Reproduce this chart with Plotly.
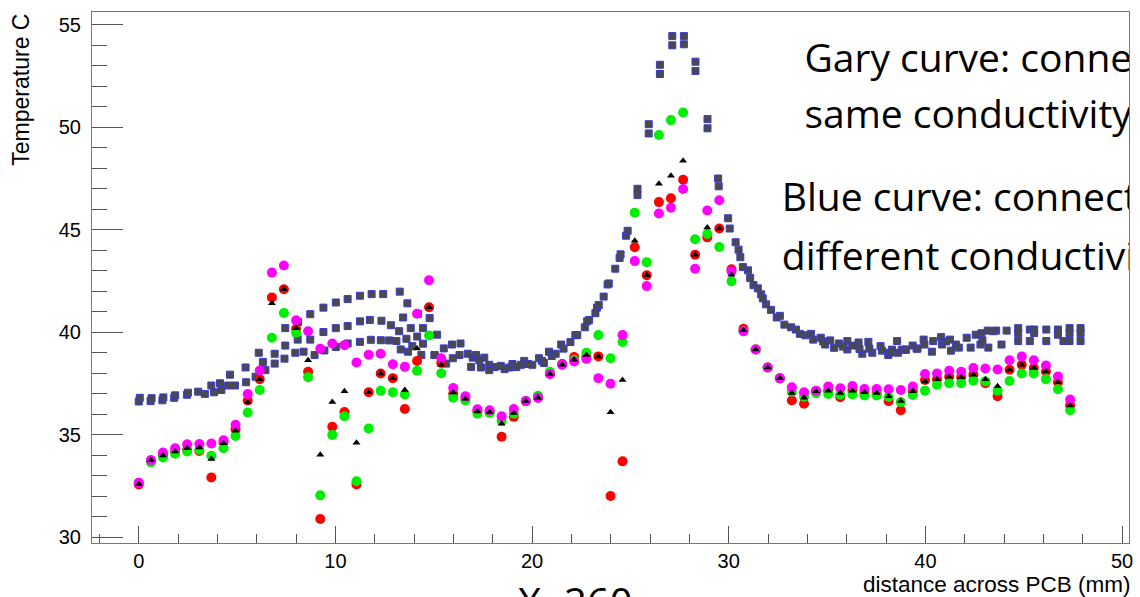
import plotly.graph_objects as go

# ---------------- data ----------------
x_pts = [0.0, 0.62, 1.23, 1.85, 2.46, 3.08, 3.69, 4.31, 4.92, 5.54, 6.15, 6.77, 7.38, 8.0,
         8.61, 9.23, 9.84, 10.46, 11.07, 11.69, 12.3, 12.92, 13.53, 14.15, 14.76, 15.38,
         15.99, 16.61, 17.22, 17.84, 18.45, 19.07, 19.68, 20.3, 20.91, 21.53, 22.14, 22.76,
         23.37, 23.99, 24.6, 25.22, 25.83, 26.45, 27.06, 27.68, 28.29, 28.91, 29.52, 30.14,
         30.75, 31.37, 31.98, 32.6, 33.21, 33.83, 34.44, 35.06, 35.67, 36.29, 36.9, 37.52,
         38.13, 38.75, 39.36, 39.98, 40.59, 41.21, 41.82, 42.44, 43.05, 43.67, 44.28, 44.9,
         45.51, 46.13, 46.74, 47.36]

red_y = [32.57, 33.7, 34.0, 34.15, 34.25, 34.21, 32.91, 34.63, 35.26, 36.67, 37.71, 41.70,
         42.10, 40.16, 38.07, 30.89, 35.39, 36.11, 32.57, 37.07, 37.99, 37.76, 36.25, 38.6,
         41.22, 38.5, 37.0, 36.75, 36.14, 36.11, 34.9, 35.87, 36.64, 36.8, 37.96, 38.45,
         38.79, 38.8, 38.82, 32.01, 33.70, 44.15, 42.78, 46.35, 46.54, 47.44, 43.78, 44.63,
         45.06, 43.07, 40.17, 39.16, 38.28, 37.75, 36.67, 36.51, 37.12, 37.15, 36.83, 37.15,
         37.07, 37.0, 36.64, 36.19, 37.12, 37.67, 37.71, 37.83, 37.8, 37.93, 37.51, 36.88,
         38.17, 38.41, 38.25, 38.09, 37.56, 36.43]

green_y = [32.65, 33.65, 33.89, 34.07, 34.18, 34.25, 33.97, 34.34, 34.94, 36.08, 37.18, 39.73,
           40.94, 39.97, 37.8, 32.04, 34.99, 35.9, 32.73, 35.3, 37.14, 37.07, 36.96, 38.12,
           39.84, 38.0, 36.8, 36.67, 36.03, 36.06, 35.68, 36.03, 36.64, 36.9, 38.07, 38.41,
           38.66, 39.0, 39.86, 38.73, 39.52, 45.83, 43.42, 49.62, 50.35, 50.72, 44.54, 44.79,
           44.16, 42.49, 40.05, 39.16, 38.28, 37.75, 37.1, 36.85, 37.03, 36.99, 36.95, 36.96,
           36.91, 36.91, 36.84, 36.59, 36.94, 37.15, 37.44, 37.51, 37.51, 37.64, 37.6, 37.15,
           37.62, 37.99, 37.99, 37.71, 37.22, 36.19]

magenta_y = [32.65, 33.76, 34.13, 34.34, 34.53, 34.55, 34.57, 34.73, 35.48, 36.98, 38.13, 42.91,
             43.26, 40.58, 40.05, 39.19, 39.45, 39.37, 38.52, 38.9, 38.95, 38.44, 38.31, 40.9,
             42.54, 38.73, 37.28, 36.87, 36.24, 36.19, 35.9, 36.25, 36.64, 36.8, 37.96, 38.41,
             38.57, 38.7, 37.76, 37.49, 39.86, 43.47, 42.25, 45.79, 46.07, 46.99, 43.10, 45.94,
             46.44, 42.97, 40.05, 39.16, 38.28, 37.75, 37.31, 37.07, 37.15, 37.35, 37.27, 37.38,
             37.23, 37.23, 37.22, 37.18, 37.35, 37.96, 37.99, 38.12, 38.07, 38.25, 38.23, 38.18,
             38.63, 38.82, 38.63, 38.38, 37.84, 36.72]

black_y = [32.6, 33.76, 33.99, 34.18, 34.34, 34.37, 33.81, 34.58, 35.19, 36.58, 37.71, 41.41,
           42.1, 40.2, 38.63, 34.02, 36.59, 37.12, 34.61, 37.07, 37.99, 37.76, 37.18, 39.21,
           41.22, 38.41, 37.06, 36.75, 36.14, 36.11, 35.54, 36.06, 36.64, 36.8, 37.96, 38.41,
           38.66, 38.89, 38.82, 36.09, 37.67, 44.46, 42.78, 47.25, 47.63, 48.37, 43.78, 45.11,
           45.06, 42.81, 40.1, 39.16, 38.28, 37.75, 37.04, 36.8, 37.12, 37.15, 37.03, 37.15,
           37.07, 37.04, 36.87, 36.64, 37.12, 37.6, 37.71, 37.83, 37.8, 37.93, 37.71, 37.36,
           38.17, 38.41, 38.25, 38.09, 37.56, 36.43]

sq_a_x = [0.0, 0.6, 1.2, 1.8, 2.45, 3.02, 3.69, 4.13, 4.64, 5.43, 6.1, 6.91, 7.45, 8.1, 8.72,
          9.39, 10.02, 10.62, 11.25, 11.84, 12.43, 13.27, 13.66, 14.2, 14.79, 15.17, 15.51,
          15.93, 16.36, 16.98, 17.57, 18.1, 18.84, 19.6, 20.35, 20.86, 21.48, 21.95, 22.2,
          22.68, 22.8, 23.22, 23.3, 23.64, 23.84, 24.23, 24.45, 24.78, 25.36, 25.93, 26.5,
          27.13, 27.72, 28.31, 28.92, 29.46, 29.97, 30.35, 30.59, 30.98, 31.26, 31.65, 31.9,
          32.15, 32.44, 32.83, 33.17, 33.62, 34.18, 34.68, 35.16, 35.6, 36.03, 36.6, 37.1,
          37.72, 38.3, 38.56, 39.0, 39.35, 39.91, 40.4, 40.8, 41.25, 41.55, 42.1, 42.56,
          43.17, 43.6, 44.13, 44.72, 45.31, 45.53, 46.15, 46.74, 47.33, 47.89]
sq_a_y = [36.62, 36.64, 36.68, 36.8, 36.95, 37.1, 37.4, 37.51, 37.93, 38.28, 39.0, 38.95, 40.2,
          40.5, 40.88, 41.2, 41.45, 41.62, 41.78, 41.86, 41.86, 41.98, 41.41, 40.9, 40.69,
          39.88, 39.21, 39.4, 39.45, 38.76, 38.76, 38.3, 38.28, 38.6, 38.73, 39.05, 39.4,
          39.52, 39.86, 40.24, 40.53, 40.93, 41.2, 41.74, 42.33, 43.1, 43.62, 44.71, 47.0,
          50.15, 53.05, 54.45, 54.45, 53.2, 50.4, 47.5, 45.56, 44.39, 43.66, 43.02, 42.3,
          41.85, 41.36, 41.09, 40.72, 40.37, 40.24, 39.92, 39.92, 39.73, 39.6, 39.45, 39.57,
          39.5, 39.53, 39.32, 39.15, 39.57, 39.15, 39.35, 39.64, 39.57, 39.76, 39.64, 39.4,
          39.73, 39.88, 40.08, 40.08, 40.08, 40.2, 40.13, 40.13, 40.13, 40.13, 40.2, 40.2]

sq_b_x = [0.05, 0.65, 1.25, 1.85, 2.5, 3.36, 3.83, 4.2, 4.54, 4.89, 5.46, 5.94, 6.31, 6.91,
          7.45, 8.08, 8.72, 9.39, 10.02, 10.62, 11.25, 11.75, 12.34, 12.82, 13.24, 13.44,
          13.83, 14.45, 15.04, 15.63, 15.97, 16.31, 16.73, 17.15, 17.4, 17.82, 18.41, 19.0,
          19.43, 20.01, 20.5, 21.0, 21.6, 22.3, 22.9, 23.39, 23.9, 24.5, 24.86, 25.36, 25.93,
          26.5, 27.13, 27.72, 28.31, 28.92, 29.49, 30.05, 30.5, 30.72, 31.09, 31.48, 31.73,
          32.6, 33.42, 33.9, 34.3, 34.8, 35.36, 36.03, 36.3, 36.79, 37.3, 37.8, 38.11, 38.6,
          38.8, 39.55, 39.95, 40.33, 40.85, 41.05, 41.7, 42.3, 42.8, 42.85, 43.45, 43.87,
          44.72, 45.53, 46.74, 47.33, 47.89]
sq_b_y = [36.8, 36.78, 36.82, 36.92, 37.05, 36.99, 37.07, 37.18, 37.4, 37.4, 37.56, 37.83,
          38.55, 38.47, 39.35, 39.64, 39.64, 40.01, 40.2, 40.3, 40.53, 40.6, 40.56, 40.34,
          40.05, 40.72, 40.2, 40.2, 38.89, 38.47, 38.73, 38.89, 38.95, 38.89, 38.28, 38.41,
          38.36, 38.45, 38.41, 38.41, 38.6, 38.84, 39.2, 39.86, 40.6, 41.33, 42.38, 43.8,
          44.95, 46.7, 49.7, 52.6, 54.0, 54.05, 52.75, 49.95, 47.12, 45.06, 44.03, 43.18,
          42.65, 42.14, 41.65, 40.8, 40.13, 39.85, 39.64, 39.55, 39.24, 39.16, 39.35, 38.95,
          39.0, 39.1, 38.89, 39.0, 39.15, 39.2, 39.4, 39.05, 39.4, 39.55, 39.25, 39.25, 39.4,
          39.95, 40.05, 39.4, 39.96, 39.96, 39.88, 39.96, 39.96]

sq_c_x = [6.44, 7.41, 7.96, 8.38, 8.94, 9.44, 10.02, 10.62, 11.25, 11.8, 12.31, 12.73, 13.1,
          13.32, 13.61, 13.69, 13.91, 14.16, 14.37, 14.45, 15.04, 16.9, 17.32, 17.82, 18.6,
          19.2, 19.8, 20.6, 21.2, 34.9, 35.8, 36.65, 37.15, 38.2, 39.0, 39.6, 41.3, 42.9,
          43.2, 44.72, 45.31, 46.15, 47.02, 47.33, 47.89]
sq_c_y = [38.15, 38.71, 39.0, 39.05, 38.89, 39.11, 39.28, 39.45, 39.53, 39.63, 39.61, 39.6,
          39.57, 39.16, 39.68, 39.05, 39.32, 39.79, 38.89, 39.44, 38.89, 38.31, 38.63, 38.15,
          38.2, 38.3, 38.45, 38.5, 38.95, 39.4, 39.3, 39.18, 39.2, 39.0, 39.15, 39.2, 39.1,
          39.6, 39.25, 39.57, 39.57, 39.57, 39.57, 39.57, 39.57]

x_ticks = [0, 10, 20, 30, 40, 50]
y_ticks = [30, 35, 40, 45, 50, 55]

note_lines = ["Gary curve: connected", "same conductivity", "Blue curve: connected", "different conductivity"]

# ---------------- figure ----------------
W, H = 1140, 597
L, R, T, B = 92.3, 1133.3, 12.0, 547.7
X_RANGE = [-2.38, 50.37]
Y_RANGE = [29.71, 55.63]

fig = go.Figure()

sq_style = dict(symbol="square", size=7, color="#4a4a4a", line=dict(color="#3a3ad0", width=1))
for sx, sy in [(sq_a_x, sq_a_y), (sq_b_x, sq_b_y), (sq_c_x, sq_c_y)]:
    fig.add_trace(go.Scatter(x=sx, y=sy, mode="markers", marker=sq_style,
                             showlegend=False, hoverinfo="skip"))

for yy, col in [(red_y, "#ff0000"), (green_y, "#00ee00"), (magenta_y, "#ff00ff")]:
    fig.add_trace(go.Scatter(x=x_pts, y=yy, mode="markers",
                             marker=dict(symbol="circle", size=10, color=col, line=dict(width=0)),
                             showlegend=False, hoverinfo="skip"))

fig.add_trace(go.Scatter(x=x_pts, y=black_y, mode="markers",
                         marker=dict(symbol="triangle-up", size=7, color="black", line=dict(width=0)),
                         showlegend=False, hoverinfo="skip"))

# slide text overlaid on the chart (clipped at the frame's right edge)
note_pos = [(33.85, 53.19), (33.85, 50.44), (32.7, 46.37), (32.7, 43.51)]
for txt, (tx, ty) in zip(note_lines, note_pos):
    fig.add_trace(go.Scatter(x=[tx], y=[ty], mode="text", text=[txt], textposition="middle right",
                             textfont=dict(family="Open Sans", size=39, color="black"),
                             cliponaxis=True, showlegend=False, hoverinfo="skip"))

axis_font = dict(family="Liberation Sans, Arial", size=20, color="black")
fig.update_layout(
    width=W, height=H, autosize=False,
    margin=dict(l=0, r=0, t=0, b=0),
    paper_bgcolor="white", plot_bgcolor="white",
    xaxis=dict(domain=[L / W, R / W], range=X_RANGE, tickvals=x_ticks, ticks="inside",
               ticklen=17, tickcolor="#555", tickwidth=1, showgrid=False, zeroline=False,
               showline=True, linecolor="#777", linewidth=1, mirror=True,
               tickfont=axis_font,
               minor=dict(dtick=2, tick0=0, ticks="inside", ticklen=9, tickcolor="#555", showgrid=False)),
    yaxis=dict(domain=[(H - B) / H, (H - T) / H], range=Y_RANGE, tickvals=y_ticks, ticks="inside",
               ticklen=31, tickcolor="#555", tickwidth=1, showgrid=False, zeroline=False,
               showline=True, linecolor="#777", linewidth=1, mirror=True,
               tickfont=axis_font, ticklabelstandoff=6,
               minor=dict(dtick=1, tick0=0, ticks="inside", ticklen=15, tickcolor="#555", showgrid=False)),
    annotations=[
        dict(text="Temperature C", xref="paper", yref="paper", x=21.5 / W, y=(H - 90) / H,
             xanchor="center", yanchor="middle", textangle=-90, showarrow=False,
             font=dict(family="Liberation Sans, Arial", size=23, color="black")),
        dict(text="distance across PCB (mm)", xref="paper", yref="paper", x=1137 / W, y=(H - 589) / H,
             xanchor="right", yanchor="middle", showarrow=False,
             font=dict(family="Liberation Sans, Arial", size=22.5, color="black")),
        dict(text="X=260", xref="paper", yref="paper", x=578 / W, y=(H - 607) / H,
             xanchor="center", yanchor="middle", showarrow=False,
             font=dict(family="Open Sans", size=40, color="black")),
    ],
)

fig.write_html("out.html")
